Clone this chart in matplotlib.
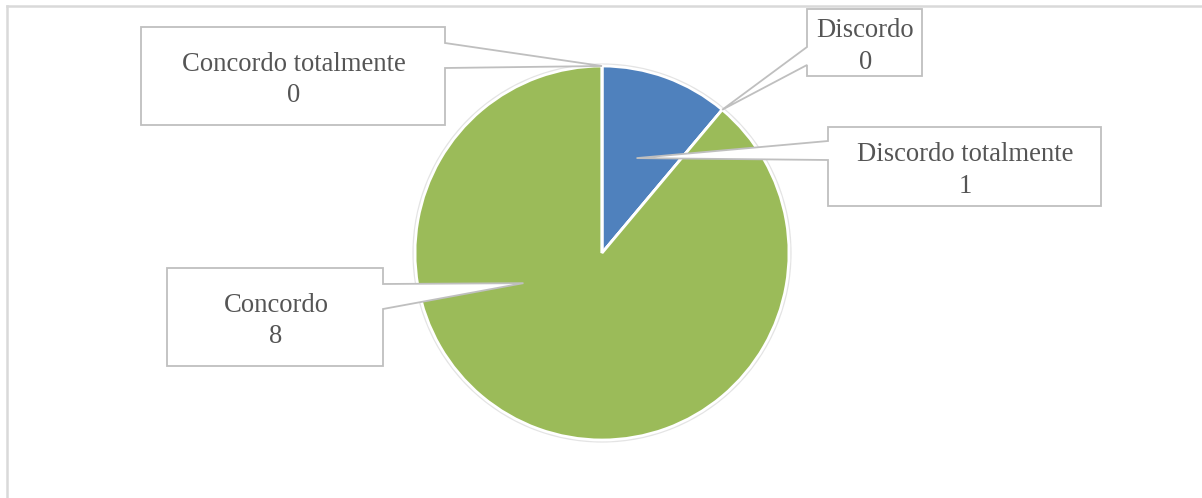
import numpy as np
import matplotlib
matplotlib.use("Agg")
import matplotlib.pyplot as plt
from matplotlib.patches import Polygon, Circle
from matplotlib.lines import Line2D

# ---- data ----
categories = ["Discordo totalmente", "Discordo", "Concordo", "Concordo totalmente"]
values = [1, 0, 8, 0]
colors = ["#4F81BD", "#C0504D", "#9BBB59", "#8064A2"]

# ---- layout (pixel coordinates, measured from top-left) ----
W, H = 1202, 498
CX, CY, R = 602, 253, 187
# callout boxes: (x0, y0, x1, y1, side, wedge_a, wedge_b)
boxes = {
    "Discordo totalmente": (828, 127, 1101, 206, "left", 141, 160),
    "Discordo": (807, 9, 922, 76, "left", 47, 65),
    "Concordo": (167, 268, 383, 366, "right", 284, 309),
    "Concordo totalmente": (141, 27, 445, 125, "right", 43, 68),
}
# tip location inside wedge: radius fraction
tip_rf = {"Discordo totalmente": 0.54, "Discordo": 1.0, "Concordo": 0.45, "Concordo totalmente": 1.0}
tip_ang = {"Concordo": 201.0}  # explicit angle (deg, math) where the label pointer sits

fig = plt.figure(figsize=(W / 100, H / 100), dpi=100)
ax = fig.add_axes([0, 0, 1, 1])

def py(y):
    return H - y

wedges, _ = ax.pie(values, colors=colors, startangle=90, counterclock=False,
                   center=(CX, py(CY)), radius=R,
                   wedgeprops=dict(edgecolor="white", linewidth=2.0))
ax.add_patch(Circle((CX, py(CY)), R + 1.5, fill=False, edgecolor="#e4e4e4", lw=1.6, zorder=0.5))

ax.set_xlim(0, W)
ax.set_ylim(0, H)
ax.set_aspect("auto")
ax.axis("off")

txt_color = "#555555"
edge_color = "#bfbfbf"
for w, cat, val in zip(wedges, categories, values):
    x0, y0, x1, y1, side, wa, wb = boxes[cat]
    if cat in tip_ang:
        ang = np.deg2rad(tip_ang[cat])
    elif val == 0:
        ang = np.deg2rad(w.theta1)
    else:
        ang = np.deg2rad((w.theta1 + w.theta2) / 2)
    rr = R * tip_rf[cat]
    tx = CX + rr * np.cos(ang)
    ty = py(CY) + rr * np.sin(ang)
    if side == "right":
        verts = [(x0, y0), (x1, y0), (x1, wa), None, (x1, wb), (x1, y1), (x0, y1)]
    else:
        verts = [(x0, y0), (x1, y0), (x1, y1), (x0, y1), (x0, wb), None, (x0, wa)]
    pts = []
    for v in verts:
        if v is None:
            pts.append((tx, ty))
        else:
            pts.append((v[0], py(v[1])))
    ax.add_patch(Polygon(pts, closed=True, facecolor="white", edgecolor=edge_color,
                         lw=1.3, zorder=5))
    ax.text((x0 + x1) / 2 + 1, py((y0 + y1) / 2 + 4), f"{cat}\n{val}", ha="center", va="center",
            fontsize=19.2, family="Liberation Serif", color=txt_color, zorder=6,
            linespacing=1.36)

# chart frame (top and left visible)
ax.add_line(Line2D([7, W], [py(6), py(6)], color="#d9d9d9", lw=1.8))
ax.add_line(Line2D([7, 7], [py(6), 0], color="#d9d9d9", lw=1.8))

fig.savefig("out.png", dpi=100)
